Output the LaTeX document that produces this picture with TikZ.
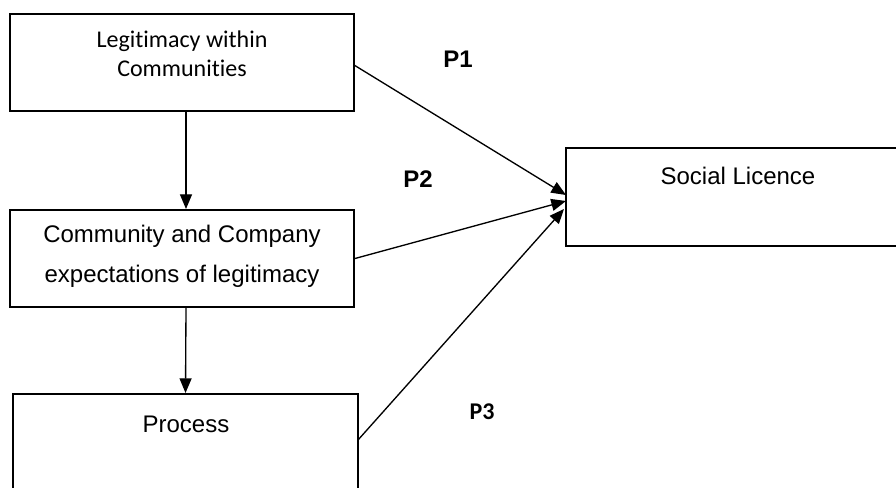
\documentclass[tikz,border=0pt]{standalone}
\usepackage{fontspec}
\setmainfont{Liberation Sans}
\newfontfamily\calfont[Ligatures=NoCommon]{Carlito}
\usetikzlibrary{arrows.meta}
\begin{document}
\begin{tikzpicture}[x=0.75pt,y=-0.75pt,
  box/.style={draw,line width=1.5pt,inner sep=0pt,minimum width=258pt,minimum height=72.75pt},
  arr/.style={line width=1pt,-{Triangle[length=11pt,width=9pt]}},
  lbl/.style={inner sep=0pt,anchor=base,font=\fontsize{18}{22}\selectfont},
  plbl/.style={inner sep=0pt,anchor=base,font=\fontsize{18}{22}\selectfont\bfseries}]
\useasboundingbox (0,0) rectangle (896,488);
\clip (0,0) rectangle (896,488);
\fill[white] (0,0) rectangle (896,488);
\node[box] (b1) at (182,62.5) {};
\node[box] (b2) at (182,258.5) {};
\node[box,minimum width=258.75pt] (b3) at (185.5,442.5) {};
\node[box,minimum height=73.5pt] (b4) at (738,197) {};
% texts
\node[lbl,font=\calfont\fontsize{18}{22}\selectfont] (t1a) at (182,48) {Legitimacy within};
\node[lbl,font=\calfont\fontsize{18}{22}\selectfont] (t1b) at (182,77) {Communities};
\node[lbl] (t2a) at (182,243) {Community and Company};
\node[lbl] (t2b) at (182,283) {expectations of legitimacy};
\node[lbl] (t3) at (186,432) {Process};
\node[lbl] (t4) at (738,185) {Social Licence};
\node[plbl] (p1) at (458,68) {P1};
\node[plbl] (p2) at (418,188) {P2};
\node[plbl,font=\calfont\fontsize{18}{22}\selectfont\bfseries] (p3) at (482,419) {P3};
% connector ends
\coordinate (s1) at (354,65);
\coordinate (s3) at (358,440);
\coordinate (e1) at (566,195);
\coordinate (e2) at (566,201);
\coordinate (e3) at (564,209);
\draw[arr] ([xshift=3pt]b1.south) -- ([xshift=3pt]b2.north);
\draw[arr] ([xshift=3pt]b2.south) -- (b3.north);
\draw[arr] (s1) -- (e1);
\draw[arr] (b2.east) -- (e2);
\draw[arr] (s3) -- (e3);
\end{tikzpicture}
\end{document}
